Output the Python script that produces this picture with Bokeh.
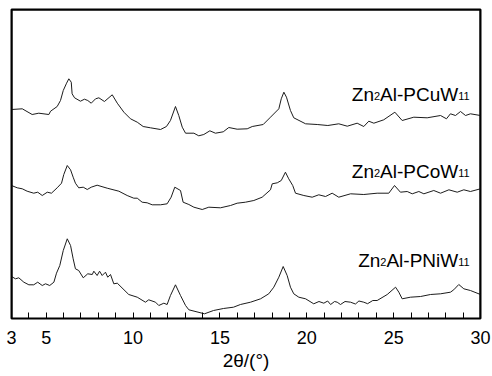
from bokeh.plotting import figure
from bokeh.models import Range1d, FixedTicker, ColumnDataSource, Span
from bokeh.core.properties import value
from bokeh.embed import file_html
from bokeh.resources import INLINE

# ---------------- data (2θ in degrees, intensity in a.u., stacked) ----------------
two_theta_cu = [3.0, 3.62, 4.19, 4.57, 5.15, 5.25, 5.63, 5.82, 5.98, 6.17, 6.30, 6.44, 6.49, 6.63,
                6.97, 7.20, 7.39, 7.59, 7.84, 8.03, 8.35, 8.80, 9.09, 9.47, 9.85, 10.24, 10.58,
                11.00, 11.58, 11.92, 12.15, 12.44, 12.63, 12.83, 13.02, 13.50, 13.78, 14.07, 14.42,
                14.74, 15.19, 15.51, 15.99, 16.57, 16.86, 17.49, 17.91, 18.39, 18.53, 18.68, 18.83,
                19.06, 19.25, 19.93, 20.60, 21.21, 21.84, 22.33, 22.90, 23.28, 23.57, 23.86, 24.43,
                25.07, 25.49, 26.16, 26.93, 27.70, 28.04, 28.27, 28.56, 28.85, 29.14, 29.42, 30.0]
intensity_cu = [209, 209.7, 204, 205.3, 204, 207.3, 212, 218, 228, 235.3, 239.7, 236.3, 224.7, 220.7,
                217.3, 219.3, 218, 215.3, 219.7, 220.7, 217, 223.7, 215.3, 206.3, 199.7, 196.3, 192,
                190.7, 189, 192, 198, 212, 203, 191.3, 185.3, 185.3, 182.7, 184, 187.7,
                185.3, 186.7, 191, 189.3, 189.7, 192, 194, 201.3, 209.7, 219.7, 226.3, 221.3,
                208, 200.7, 194.7, 194, 193, 194.7, 192.3, 195.3, 192, 197.3, 195.3, 198.7,
                206.3, 198, 201.3, 200.7, 203, 199.7, 204.7, 203, 207, 203, 204.7, 203]

two_theta_co = [3.0, 3.33, 3.62, 3.90, 4.28, 4.51, 4.77, 5.06, 5.30, 5.63, 5.88, 6.01, 6.21, 6.40,
                6.55, 6.68, 6.87, 7.13, 7.36, 7.59, 7.93, 8.51, 9.18, 9.66, 10.04, 10.24, 10.52,
                10.81, 11.10, 11.58, 11.96, 12.19, 12.40, 12.73, 12.88, 13.21, 13.50, 13.98, 14.36,
                15.03, 15.61, 15.99, 16.47, 16.95, 17.43, 17.91, 18.01, 18.30, 18.53, 18.77, 18.96,
                19.19, 19.35, 19.83, 20.31, 20.69, 21.08, 21.46, 21.84, 22.52, 23.28, 24.05, 24.72,
                25.05, 25.39, 25.78, 26.07, 26.45, 26.74, 27.31, 27.70, 28.18, 28.66, 29.04, 29.42, 30.0]
intensity_co = [133, 130.7, 129.7, 127.3, 125.3, 126.3, 123, 126.3, 125.3, 130.7, 135.3, 144, 153, 148.7,
                141.3, 135.3, 130.7, 131.3, 129, 131.3, 133.3, 130.3, 127.3, 123, 120.3, 120.3, 116.3,
                115.7, 113.7, 113.7, 114.7, 121.3, 131.3, 128, 116.3, 114, 111.3, 109, 111.3,
                110.7, 113, 115.3, 116.3, 118, 121.3, 128.7, 134.7, 135.7, 138, 146.3, 139.7,
                133, 125.3, 123, 121.3, 123.7, 122, 125.3, 121.3, 124.7, 124, 125.3, 125.3,
                133, 126.3, 127, 124.7, 127, 124.7, 128, 125.3, 128.7, 126.3, 128.7, 127, 129.7]

two_theta_ni = [3.0, 3.23, 3.42, 3.71, 4.00, 4.28, 4.51, 4.77, 4.96, 5.20, 5.44, 5.59, 5.78, 5.98,
                6.21, 6.40, 6.55, 6.68, 6.87, 7.13, 7.39, 7.65, 7.74, 7.93, 8.07, 8.22, 8.41, 8.54,
                8.70, 8.89, 9.09, 9.75, 10.24, 10.71, 10.90, 11.29, 11.48, 11.77, 11.96, 12.15,
                12.44, 12.73, 13.02, 13.21, 14.11, 14.63, 15.20, 15.78, 16.18, 16.76, 17.34, 17.81,
                18.10, 18.39, 18.64, 18.87, 19.06, 19.25, 19.54, 19.93, 20.40, 20.70, 20.98, 21.20,
                21.37, 21.60, 21.75, 21.94, 22.20, 22.52, 22.80, 23.00, 23.28, 23.50, 23.80, 24.05,
                24.63, 25.11, 25.30, 25.49, 25.97, 26.55, 27.12, 27.70, 28.27, 28.46, 28.75, 29.04,
                29.42, 30.0]
intensity_ni = [42, 39.7, 40.7, 36.3, 33.7, 33.7, 36.3, 33, 34.7, 33, 36.3, 45.3, 53, 68,
                79.7, 73, 59.7, 49.7, 48, 40.7, 44.7, 44, 47.3, 43, 47.3, 43, 46.3, 41.3,
                44, 34.7, 35.3, 24, 21.3, 16.3, 18.7, 16.3, 13, 15.3, 14, 23,
                33.7, 23, 13, 8.7, 4.7, 8, 10, 11.3, 14, 16.3, 19.7, 24.7,
                31.3, 41.3, 52, 43, 31.3, 24.7, 21.3, 19.7, 14.7, 17, 15.3, 17.5,
                14, 17, 16.3, 14, 17, 16.3, 14.5, 17.5, 16.3, 14.8, 18, 18,
                24, 31.3, 26.3, 19.7, 21.3, 22, 24, 24.7, 26.3, 28.7, 34, 29.7,
                28, 24]

# sample labels: (normal, subscript, normal, subscript) segments
label_segments = [["Zn", "2", "Al-PCuW", "11"],
                  ["Zn", "2", "Al-PCoW", "11"],
                  ["Zn", "2", "Al-PNiW", "11"]]
label_baseline = [224, 147, 58]
label_right_x = 29.42

tick_values = list(range(3, 31))
tick_labels = [3, 5, 10, 15, 20, 25, 30]
x_title = "2θ/(°)"

FONT = "Liberation Sans"

# ---------------- figure ----------------
x_range = Range1d(3, 30)
y_range = Range1d(0, 309)
p = figure(width=492, height=376, x_range=x_range, y_range=y_range,
           output_backend="svg", toolbar_location=None, y_axis_location=None,
           min_border_left=11, min_border_right=12, min_border_top=9, min_border_bottom=58)
p.background_fill_color = "white"
p.border_fill_color = "white"
p.outline_line_color = "black"
p.outline_line_width = 2
p.xgrid.visible = False
p.ygrid.visible = False

ax = p.xaxis[0]
ax.ticker = FixedTicker(ticks=tick_values, minor_ticks=[])
ax.major_label_overrides = {t: (str(t) if t in tick_labels else "") for t in tick_values}
ax.axis_line_color = "black"
ax.major_tick_line_color = "black"
ax.major_tick_in = 6
ax.major_tick_out = 0
ax.minor_tick_in = 0
ax.minor_tick_out = 0
ax.major_label_text_font = FONT
ax.major_label_text_font_size = "18px"
ax.major_label_text_color = "black"
ax.major_label_standoff = 12
ax.axis_label = x_title
ax.axis_label_text_font = FONT
ax.axis_label_text_font_size = "19px"
ax.axis_label_text_font_style = "normal"
ax.axis_label_text_color = "black"
ax.axis_label_standoff = 3

# plot frame box along the range limits
for loc, dim in [(x_range.start, "height"), (x_range.end, "height"), (y_range.end, "width")]:
    p.add_layout(Span(location=loc, dimension=dim, line_color="black", line_width=2))

line_color = "#1c1c1c"
for xs, ys in [(two_theta_cu, intensity_cu), (two_theta_co, intensity_co), (two_theta_ni, intensity_ni)]:
    p.line(xs, ys, line_color=line_color, line_width=1)

# Liberation Sans (Arial-metric) advance widths, per 1000 em
widths = {"Z": 611, "n": 556, "A": 667, "l": 222, "-": 333, "P": 667, "C": 722, "u": 556,
          "W": 944, "o": 556, "N": 722, "i": 222, "1": 556, "2": 556}
MAIN, SUB = 19, 11

big = dict(x=[], y=[], text=[], xo=[])
small = dict(x=[], y=[], text=[], xo=[])
for segs, yb in zip(label_segments, label_baseline):
    sizes = [MAIN if k % 2 == 0 else SUB for k in range(len(segs))]
    seg_w = [sum(widths[c] for c in s) / 1000 * sz for s, sz in zip(segs, sizes)]
    off = -sum(seg_w)
    for k, (s, w) in enumerate(zip(segs, seg_w)):
        d = big if k % 2 == 0 else small
        d["x"].append(label_right_x)
        d["y"].append(yb)
        d["text"].append(s)
        d["xo"].append(off)
        off += w

p.text(x="x", y="y", text="text", x_offset="xo", source=ColumnDataSource(big),
       text_font=value(FONT), text_font_size=value(f"{MAIN}px"), text_color="black",
       text_align="left", text_baseline="alphabetic")
p.text(x="x", y="y", text="text", x_offset="xo", y_offset=1, source=ColumnDataSource(small),
       text_font=value(FONT), text_font_size=value(f"{SUB}px"), text_color="black",
       text_align="left", text_baseline="alphabetic")

open("out.html", "w").write(file_html(p, INLINE))
